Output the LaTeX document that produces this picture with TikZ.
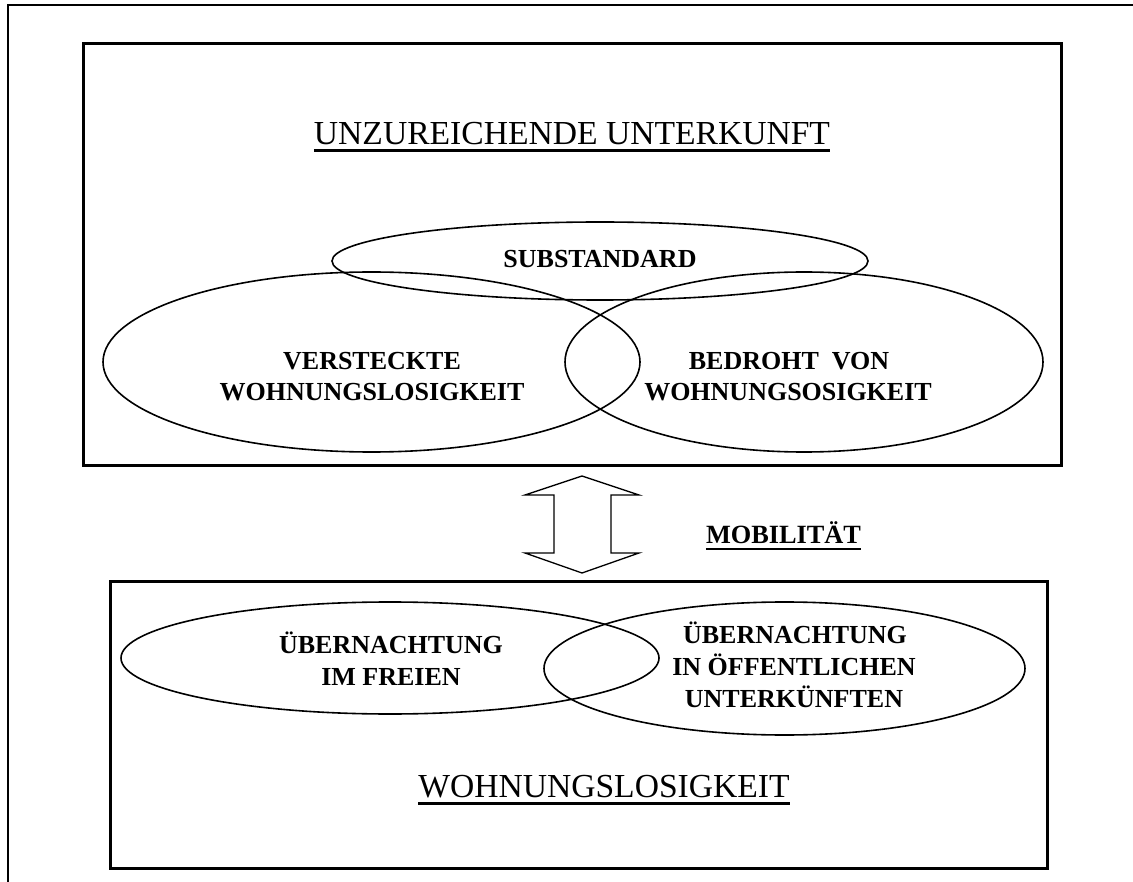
\documentclass[tikz,border=0pt]{standalone}
\usepackage{fontspec}
\setmainfont{Liberation Serif}
\usetikzlibrary{shapes.geometric}
\begin{document}
\begin{tikzpicture}[x=1pt,y=-1pt,
  outerframe/.style={line width=2.7pt},
  boxframe/.style={line width=3pt},
  ring/.style={draw, ellipse, line width=1.6pt, inner sep=0pt},
  lbl/.style={font=\fontsize{26}{32}\selectfont\bfseries, inner sep=0pt, anchor=base},
  ttl/.style={font=\fontsize{33.6}{40}\selectfont, inner sep=0pt, anchor=base},
  uline/.style={line width=3pt},
  dblarrow/.style={line width=1.3pt, line join=miter}]
\useasboundingbox (0,0) rectangle (1133,882);

% outer frame (left and top only)
\coordinate (fb) at (8,882);
\coordinate (ftl) at (8,5);
\coordinate (ftr) at (1133,5);
\draw[outerframe] (fb) -- (ftl) -- (ftr);

% boxes
\coordinate (t1) at (83,44);
\coordinate (t2) at (1061,466);
\coordinate (b1) at (110,581);
\coordinate (b2) at (1047,868);
\draw[boxframe] (t1) rectangle (t2);
\draw[boxframe] (b1) rectangle (b2);

% top title
\node[ttl] (tA) at (572,145) {UNZUREICHENDE UNTERKUNFT};
\draw[uline] ([yshift=-6pt]tA.base west) -- ([yshift=-6pt]tA.base east);

% top ellipses
\node[ring, minimum width=536pt, minimum height=78pt] (sub) at (600,261) {};
\node[ring, minimum width=537pt, minimum height=180pt] (ver) at (371.5,362) {};
\node[ring, minimum width=478pt, minimum height=180pt] (bed) at (804,362) {};

\node[lbl] (subL) at (600,268) {SUBSTANDARD};
\node[lbl] (verA) at (372,370) {VERSTECKTE};
\node[lbl] (verB) at (372,401) {WOHNUNGSLOSIGKEIT};
\node[lbl] (bedA) at (789,370) {BEDROHT\ \ VON};
\node[lbl] (bedB) at (788,401) {WOHNUNGSOSIGKEIT};

% double arrow
\coordinate (a1) at (582,476);
\coordinate (a2) at (639,495);
\coordinate (a3) at (611,495);
\coordinate (a4) at (611,553);
\coordinate (a5) at (639,553);
\coordinate (a6) at (582,573);
\coordinate (a7) at (525,553);
\coordinate (a8) at (554,553);
\coordinate (a9) at (554,495);
\coordinate (a10) at (525,495);
\draw[dblarrow] (a1) -- (a2) -- (a3) -- (a4) -- (a5) -- (a6) -- (a7) -- (a8) -- (a9) -- (a10) -- cycle;

\node[lbl, font=\fontsize{26.3}{32}\selectfont\bfseries] (mob) at (783.5,543) {MOBILITÄT};
\draw[line width=2.6pt] ([yshift=-6pt]mob.base west) -- ([yshift=-6pt]mob.base east);

% bottom ellipses
\node[ring, minimum width=538pt, minimum height=112pt] (frei) at (390,658) {};
\node[ring, minimum width=481pt, minimum height=133pt] (oeff) at (784.5,668.5) {};

\node[lbl] (freiA) at (391,653) {ÜBERNACHTUNG};
\node[lbl] (freiB) at (391,685) {IM FREIEN};
\node[lbl] (oeffA) at (795,643) {ÜBERNACHTUNG};
\node[lbl] (oeffB) at (794,675) {IN ÖFFENTLICHEN};
\node[lbl] (oeffC) at (794,707) {UNTERKÜNFTEN};

% bottom title
\node[ttl] (tB) at (604,797) {WOHNUNGSLOSIGKEIT};
\draw[uline] ([yshift=-6pt]tB.base west) -- ([yshift=-6pt]tB.base east);
\end{tikzpicture}
\end{document}
